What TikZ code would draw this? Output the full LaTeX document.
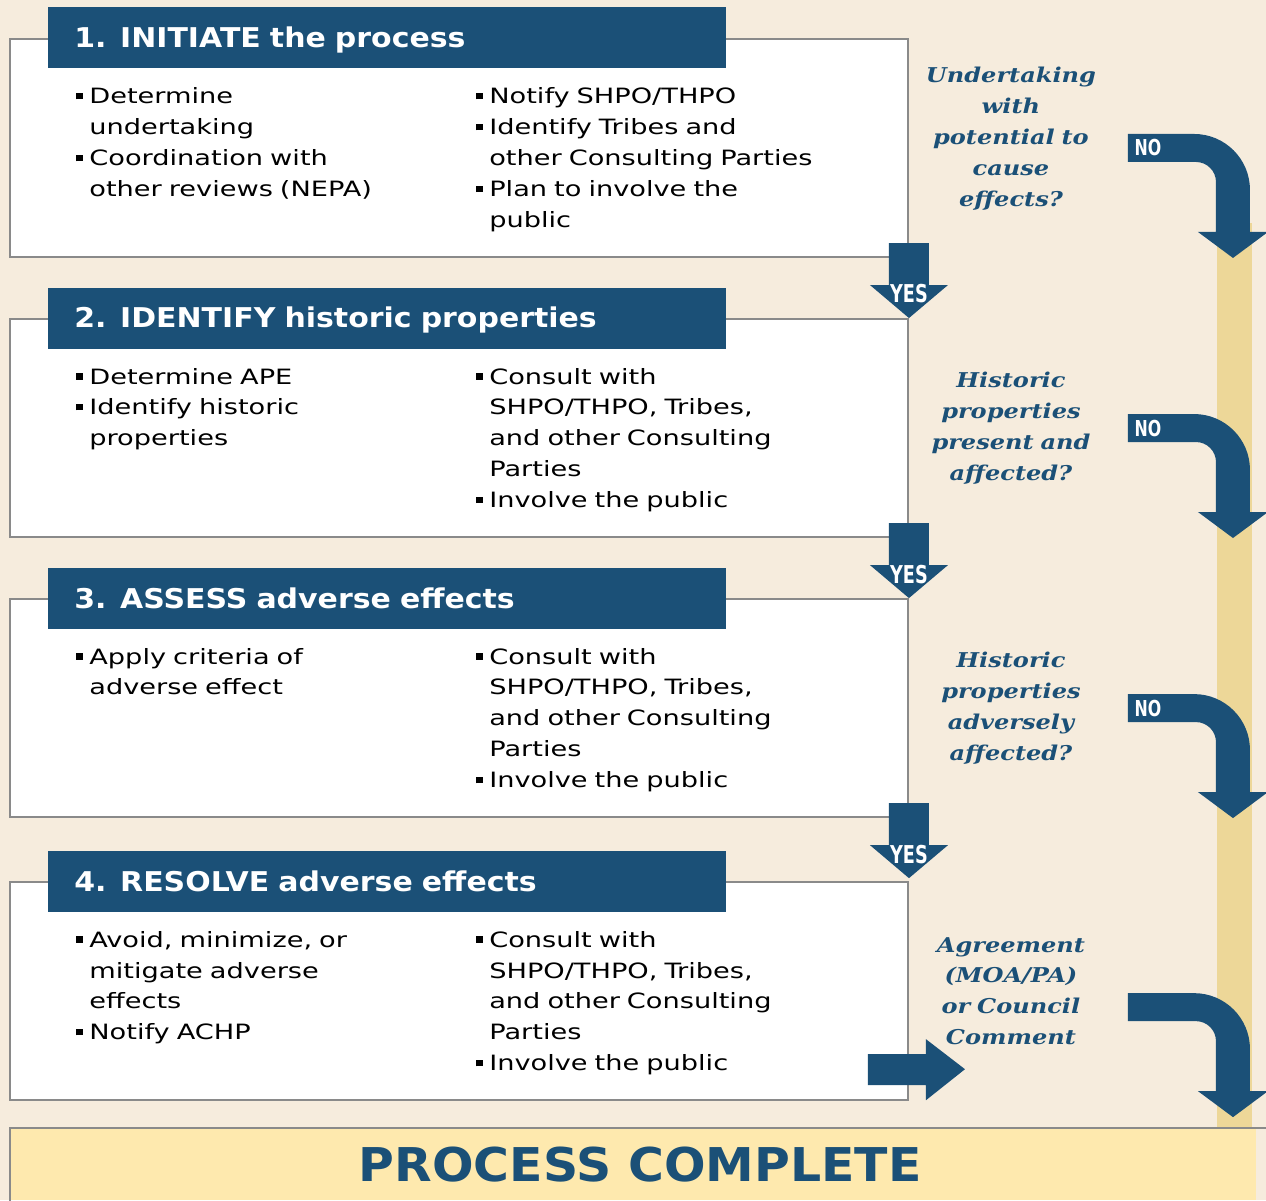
\documentclass[tikz,border=0pt]{standalone}
\usepackage{fontspec}
\usetikzlibrary{positioning,calc}
\newfontfamily\bodyfont{DejaVu Sans}[FakeStretch=1.29]
\newfontfamily\headfont{DejaVu Sans}[FakeStretch=1.1]
\newfontfamily\donefont{DejaVu Sans}[FakeStretch=1.05]
\newfontfamily\askfont{DejaVu Serif}[FakeStretch=1.18]
\newfontfamily\tagfont{DejaVu Sans}[FakeStretch=0.72]
\definecolor{stepblue}{HTML}{1B5077}
\definecolor{paper}{HTML}{F6ECDD}
\definecolor{lane}{HTML}{EDD798}
\definecolor{donefill}{HTML}{FEE9AE}
\definecolor{edgegray}{HTML}{8A8A8A}
\newcommand{\sqbul}{\makebox[0.26cm][l]{\rule[0.09cm]{0.13cm}{0.13cm}}}
\newcommand{\itemgap}{\hspace*{0.26cm}}
\tikzstyle{stepbox} = [rectangle, draw=edgegray, line width=1.2pt, fill=white,
    minimum width=17.96cm, minimum height=4.36cm, inner sep=0pt]
\tikzstyle{headbox} = [rectangle, fill=stepblue, text=white, minimum width=13.56cm,
    minimum height=1.22cm, text width=12.52cm, align=left, inner xsep=0.52cm,
    text height=11.3pt, text depth=0pt, font=\headfont\bfseries\fontsize{15.5}{18}\selectfont]
\tikzstyle{items} = [anchor=base west, inner sep=0pt, text width=8cm, align=left,
    font=\bodyfont\fontsize{12}{17.6}\selectfont]
\tikzstyle{ask} = [text=stepblue, text width=4.4cm, align=center, inner sep=0pt,
    font=\askfont\bfseries\itshape\fontsize{11.6}{17.6}\selectfont]
\tikzstyle{tag} = [text=white, inner sep=0pt, font=\tagfont\bfseries\fontsize{14}{14}\selectfont]
\tikzstyle{donebox} = [rectangle, fill=donefill, text=stepblue, minimum width=24.92cm,
    minimum height=1.44cm, inner sep=0pt, text height=19.3pt, text depth=0pt,
    font=\donefont\bfseries\fontsize{26.5}{30}\selectfont]
\tikzset{
  yesarrow/.pic={
    \fill[stepblue] (-20,-15) -- (20,-15) -- (20,27) -- (39,27) -- (0,60)
        -- (-39,27) -- (-20,27) -- cycle;
    \node[tag] (-label) at (0,36) {YES};
  },
  noarrow/.pic={
    \fill[stepblue] (0,0) -- (66,0) .. controls (97,0) and (122,25) .. (122,56)
        -- (122,98) -- (140,98) -- (105,124) -- (70,98) -- (88,98) -- (88,48)
        .. controls (88,37) and (79,28) .. (68,28) -- (0,28) -- cycle;
    \coordinate (-tail) at (20,14);
  },
  endarrow/.pic={
    \fill[stepblue] (-41,-47) -- (17,-47) -- (17,-62) -- (56,-32) -- (17,-1)
        -- (17,-16) -- (-41,-16) -- cycle;
  }
}

\begin{document}
\begin{tikzpicture}[x=0.02cm,y=-0.02cm,node distance=1.2cm]

  \useasboundingbox (0,0) rectangle (1266,1200);
  \fill[paper] (0,0) rectangle (1266,1200);
  \fill[lane] (1217,223) rectangle (1252,1128);

  % the four steps
  \node[stepbox] (s1) at (459,148) {};
  \node[stepbox] (s2) [below=of s1] {};
  \node[stepbox] (s3) [below=of s2] {};
  \node[stepbox] (s4) [below=1.26cm of s3] {};

  \node[headbox] (h1) [anchor=west, xshift=0.78cm] at (s1.north west) {1. INITIATE the process};
  \node[headbox] (h2) [anchor=west, xshift=0.78cm] at (s2.north west) {2. IDENTIFY historic properties};
  \node[headbox] (h3) [anchor=west, xshift=0.78cm] at (s3.north west) {3. ASSESS adverse effects};
  \node[headbox] (h4) [anchor=west, xshift=0.78cm] at (s4.north west) {4. RESOLVE adverse effects};

  \node[items] (l1) [xshift=1.34cm, yshift=-1.32cm] at (s1.north west)
    {\sqbul Determine\\ \itemgap undertaking\\ \sqbul Coordination with\\ \itemgap other reviews (NEPA)};
  \node[items] (r1) [xshift=9.34cm, yshift=-1.32cm] at (s1.north west)
    {\sqbul Notify SHPO/THPO\\ \sqbul Identify Tribes and\\ \itemgap other Consulting Parties\\
     \sqbul Plan to involve the\\ \itemgap public};
  \node[items] (l2) [xshift=1.34cm, yshift=-1.32cm] at (s2.north west)
    {\sqbul Determine APE\\ \sqbul Identify historic\\ \itemgap properties};
  \node[items] (r2) [xshift=9.34cm, yshift=-1.32cm] at (s2.north west)
    {\sqbul Consult with\\ \itemgap SHPO/THPO, Tribes,\\ \itemgap and other Consulting\\
     \itemgap Parties\\ \sqbul Involve the public};
  \node[items] (l3) [xshift=1.34cm, yshift=-1.32cm] at (s3.north west)
    {\sqbul Apply criteria of\\ \itemgap adverse effect};
  \node[items] (r3) [xshift=9.34cm, yshift=-1.32cm] at (s3.north west)
    {\sqbul Consult with\\ \itemgap SHPO/THPO, Tribes,\\ \itemgap and other Consulting\\
     \itemgap Parties\\ \sqbul Involve the public};
  \node[items] (l4) [xshift=1.34cm, yshift=-1.32cm] at (s4.north west)
    {\sqbul Avoid, minimize, or\\ \itemgap mitigate adverse\\ \itemgap effects\\ \sqbul Notify ACHP};
  \node[items] (r4) [xshift=9.34cm, yshift=-1.32cm] at (s4.north west)
    {\sqbul Consult with\\ \itemgap SHPO/THPO, Tribes,\\ \itemgap and other Consulting\\
     \itemgap Parties\\ \sqbul Involve the public};

  % questions
  \node[ask] (q1) [xshift=2.04cm, yshift=0.18cm] at (s1.east)
    {Undertaking\\ with\\ potential to\\ cause\\ effects?};
  \node[ask] (q2) [xshift=2.04cm] at (s2.east) {Historic\\ properties\\ present and\\ affected?};
  \node[ask] (q3) [xshift=2.04cm] at (s3.east) {Historic\\ properties\\ adversely\\ affected?};
  \node[ask] (q4) [xshift=2.04cm] at (s4.east) {Agreement\\ (MOA/PA)\\ or Council\\ Comment};

  % yes arrows
  \pic (yes1) at (s1.south east) {yesarrow};
  \pic (yes2) at (s2.south east) {yesarrow};
  \pic (yes3) at (s3.south east) {yesarrow};

  % no arrows
  \pic (no1) at ($(s1.north east)+(219,96)$) {noarrow};
  \pic (no2) at ($(s2.north east)+(219,96)$) {noarrow};
  \pic (no3) at ($(s3.north east)+(219,96)$) {noarrow};
  \pic (no4) at ($(s4.north east)+(219,112)$) {noarrow};
  \node[tag, font=\tagfont\bfseries\fontsize{12.5}{12.5}\selectfont] at (no1-tail) {NO};
  \node[tag, font=\tagfont\bfseries\fontsize{12.5}{12.5}\selectfont] at (no2-tail) {NO};
  \node[tag, font=\tagfont\bfseries\fontsize{12.5}{12.5}\selectfont] at (no3-tail) {NO};

  \pic (go4) at (s4.south east) {endarrow};

  % end of the process
  \node[donebox] (done) [anchor=north west] at (10,1128) {\hspace*{0.28cm}PROCESS COMPLETE};
  \draw[edgegray, line width=1.2pt] (done.south west) -- (done.north west) -- (1266,1128);

\end{tikzpicture}
\end{document}
